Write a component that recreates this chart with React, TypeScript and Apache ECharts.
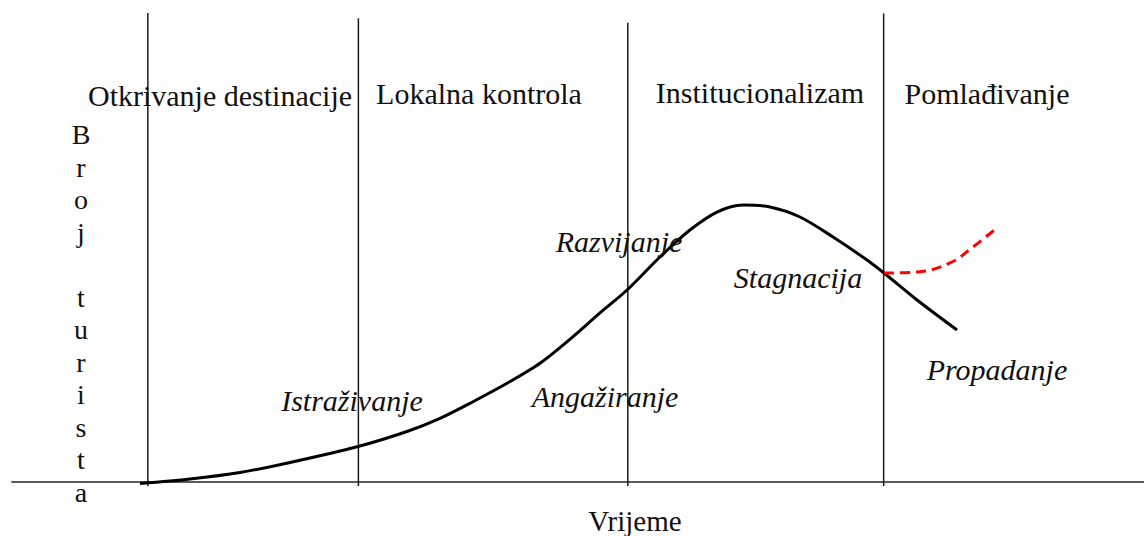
import React, { useEffect, useRef } from "react";
import * as echarts from "echarts";

// Phase boundaries (time axis 0–100, tourists axis 0–100)
const phaseLabels = ["Otkrivanje destinacije", "Lokalna kontrola", "Institucionalizam", "Pomlađivanje"];
const phaseBoundaryX = [12.0, 30.6, 54.4, 77.0];
const phaseBoundaryTop = [100, 98.9, 97.9, 99.9];
const phaseBoundaryBottom = -0.96;

// Main life-cycle curve
const curveX = [11.31, 15.72, 20.14, 24.56, 30.57, 34.89, 37.81, 40.72, 43.73, 46.64, 49.56, 51.94, 54.33, 57.24, 59.89, 62.28, 64.58, 66.96, 69.61, 72.53, 75.53, 77.03, 79.95, 83.48];
const curveY = [-0.43, 0.53, 1.92, 4.06, 7.47, 10.67, 13.49, 17.03, 20.96, 25.23, 30.91, 35.97, 40.87, 47.92, 53.68, 57.52, 59.02, 58.59, 56.46, 52.19, 47.28, 44.5, 38.74, 32.34];

// Rejuvenation (red dashed) branch
const rejuvX = [77.03, 79.95, 82.86, 84.89, 87.1];
const rejuvY = [44.5, 44.72, 46.64, 50.05, 54.32];

const stageLabels = ["Istraživanje", "Angažiranje", "Razvijanje", "Stagnacija", "Propadanje"];
const xAxisName = "Vrijeme";
const yAxisName = "Broj turista";

const FONT = "Liberation Serif";

export default function App() {
  const ref = useRef<HTMLDivElement>(null);

  useEffect(() => {
    document.body.style.margin = "0";
    if (!ref.current) return;
    const chart = echarts.init(ref.current, null, { renderer: "svg" });

    const boundarySeries = phaseBoundaryX.map((x, i) => ({
      type: "line",
      data: [
        [x, phaseBoundaryBottom],
        [x, phaseBoundaryTop[i]],
      ],
      symbol: "none",
      clip: false,
      silent: true,
      lineStyle: { color: "#1a1a1a", width: 1.5 },
      z: 1,
    }));

    const labelPos = [
      [220, 95],
      [479, 93.5],
      [760, 92],
      [987, 93.5],
    ];
    const stagePos = [
      [352, 400.5],
      [605, 396],
      [619, 241.5],
      [798, 277],
      [997, 369],
    ];

    const mkText = (t: string, x: number, y: number, size: number, italic: boolean, extra: any = {}) => ({
      type: "text",
      x,
      y,
      z: 10,
      style: {
        text: t,
        fontFamily: FONT,
        fontSize: size,
        fontStyle: italic ? "italic" : "normal",
        fill: "#111",
        textAlign: "center",
        textVerticalAlign: "middle",
        ...extra,
      },
    });

    const texts: any[] = [];
    phaseLabels.forEach((t, i) => texts.push(mkText(t, labelPos[i][0], labelPos[i][1], 30, false)));
    stageLabels.forEach((t, i) => texts.push(mkText(t, stagePos[i][0], stagePos[i][1], 30, true)));
    texts.push(mkText(xAxisName, 635, 521, 29, false));
    texts.push(
      mkText(yAxisName.split("").join("\n"), 81, 118.3, 28, false, {
        lineHeight: 32.5,
        textVerticalAlign: "top",
      })
    );

    chart.setOption({
      animation: false,
      grid: { left: 12, right: 0, top: 13, bottom: 54.5 },
      xAxis: {
        type: "value",
        min: 0,
        max: 100,
        axisLine: { show: true, lineStyle: { color: "#5a5a5a", width: 2 } },
        axisTick: { show: false },
        axisLabel: { show: false },
        splitLine: { show: false },
      },
      yAxis: {
        type: "value",
        min: 0,
        max: 100,
        show: false,
        splitLine: { show: false },
      },
      series: [
        ...boundarySeries,
        {
          type: "line",
          data: curveX.map((x, i) => [x, curveY[i]]),
          smooth: 0.3,
          symbol: "none",
          clip: false,
          silent: true,
          lineStyle: { color: "#000", width: 3 },
          z: 3,
        },
        {
          type: "line",
          data: rejuvX.map((x, i) => [x, rejuvY[i]]),
          smooth: 0.4,
          symbol: "none",
          clip: false,
          silent: true,
          lineStyle: { color: "#ff0000", width: 3, type: [10, 6] },
          z: 4,
        },
      ],
      graphic: texts,
    });

    return () => chart.dispose();
  }, []);

  return <div ref={ref} style={{ width: 1144, height: 536 }} />;
}
